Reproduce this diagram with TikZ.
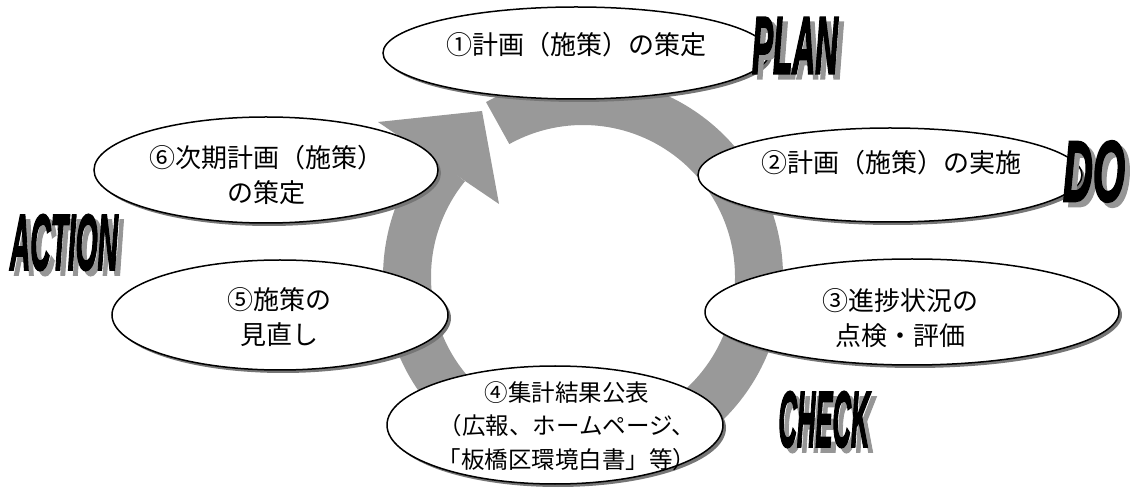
\documentclass[tikz,border=0pt]{standalone}
\usepackage{fontspec}
\usepackage{graphicx}
\setmainfont{Noto Sans CJK JP}
\newfontfamily\bigfont{Liberation Sans}[BoldItalicFeatures={FakeBold=3}]
\usetikzlibrary{shapes.geometric,shadows,calc}
\definecolor{ringgray}{RGB}{153,153,153}
\definecolor{shadowgray}{RGB}{118,118,118}
\definecolor{wordgray}{RGB}{150,150,150}
\newcommand\bigword[3]{\resizebox{#2pt}{#3pt}{\bigfont\bfseries\itshape #1}}
\newcommand\shadowword[3]{\makebox[0pt][l]{\hspace{5pt}\raisebox{-5pt}{\textcolor{wordgray}{\bigword{#1}{#2}{#3}}}}\bigword{#1}{#2}{#3}}
\tikzset{
  stage/.style={ellipse, draw=black, line width=1.5pt, fill=white, inner sep=0pt,
    drop shadow={shadow xshift=3pt, shadow yshift=-3pt, fill=shadowgray, opacity=1}},
  stagetext/.style={align=center, inner sep=0pt, font=\fontsize{26}{35}\selectfont},
  word/.style={inner sep=0pt, text=black},
}
\begin{document}
\begin{tikzpicture}[x=1pt,y=1pt]
\useasboundingbox (0,0) rectangle (1135,490);
% circular arrow
\coordinate (c) at (583,213);
\fill[ringgray] ($(c)+(119:200)$) arc[start angle=119, end angle=-219, radius=200]
  -- ($(c)+(-219:152)$) arc[start angle=-219, end angle=119, radius=152] -- cycle;
\coordinate (hl) at (378,368);
\coordinate (ht) at (482,379);
\coordinate (hr) at (499,286);
\fill[ringgray] (hl) -- (ht) -- (hr) -- cycle;
% stages
\node[stage, minimum width=386, minimum height=92] (e1) at (576,437) {};
\node[stage, minimum width=384, minimum height=94] (e2) at (890,315) {};
\node[stage, minimum width=414, minimum height=106] (e3) at (912,178) {};
\node[stage, minimum width=336, minimum height=118] (e4) at (555,65) {};
\node[stage, minimum width=336, minimum height=110] (e5) at (280,175) {};
\node[stage, minimum width=344, minimum height=106] (e6) at (266,320) {};
\node[stagetext] (t1) at (576,445) {①計画（施策）の策定};
\node[stagetext] (t2) at (891,327) {②計画（施策）の実施};
\node[stagetext] (t3) at (900,172) {③進捗状況の\\点検・評価};
\node[stagetext, font=\fontsize{23.5}{33.5}\selectfont] (t4) at (567,64) {④集計結果公表\\（広報、ホームページ、\\「板橋区環境白書」等）};
\node[stagetext] (t5) at (279,173) {⑤施策の\\見直し};
\node[stagetext] (t6) at (266,315) {⑥次期計画（施策）\\の策定};
% words
\node[word] (plan) at (795,442) {\shadowword{PLAN}{86}{56}};
\node[word] (do) at (1094,316) {\shadowword{DO}{62}{60}};
\node[word] (check) at (824,68) {\shadowword{CHECK}{91}{55}};
\node[word] (action) at (64,245) {\shadowword{ACTION}{108}{55}};
\end{tikzpicture}
\end{document}
